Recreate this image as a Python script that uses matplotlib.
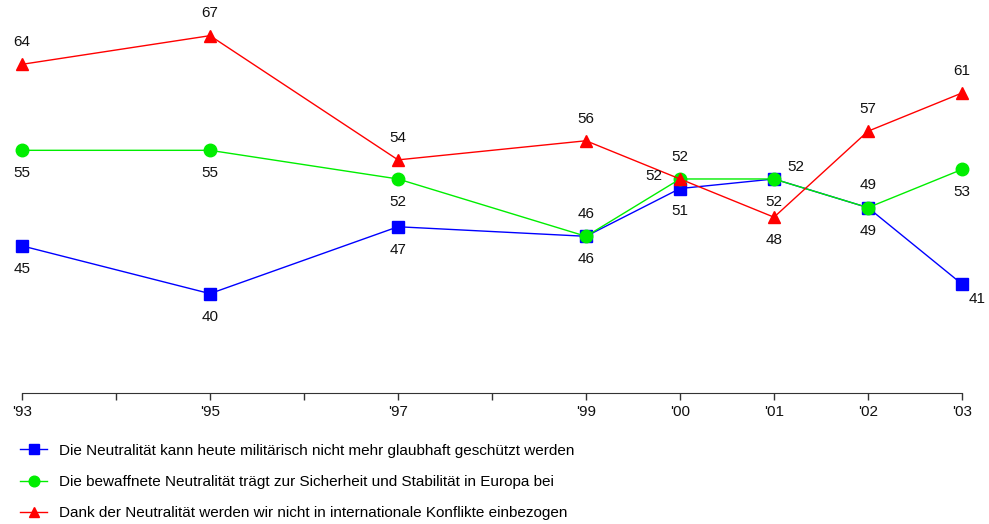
import matplotlib
matplotlib.use("Agg")
import matplotlib.pyplot as plt

plt.rcParams["font.family"] = ["Liberation Sans", "DejaVu Sans"]

years = [1993, 1995, 1997, 1999, 2000, 2001, 2002, 2003]
tick_labels = ["'93", "'95", "'97", "'99", "'00", "'01", "'02", "'03"]

labels = [
    "Die Neutralität kann heute militärisch nicht mehr glaubhaft geschützt werden",
    "Die bewaffnete Neutralität trägt zur Sicherheit und Stabilität in Europa bei",
    "Dank der Neutralität werden wir nicht in internationale Konflikte einbezogen",
]
blue_vals = [45, 40, 47, 46, 51, 52, 49, 41]
green_vals = [55, 55, 52, 46, 52, 52, 49, 53]
red_vals = [64, 67, 54, 56, 52, 48, 57, 61]

# where each value label sits relative to its marker
blue_pos = ["below", "below", "below", "below", "below", "right", "below", "belowright"]
green_pos = ["below", "below", "below", "above", "left", "below", "above", "below"]
red_pos = ["above", "above", "above", "above", "above", "below", "above", "above"]

offsets = {
    "above": (0, 16, "center", "center"),
    "below": (0, -16.5, "center", "center"),
    "right": (9.5, 8.5, "left", "center"),
    "left": (-13, 2, "right", "center"),
    "belowright": (4.5, -11, "left", "center"),
}

fig = plt.figure(figsize=(9.89, 5.24), dpi=100)
ax = fig.add_axes([22 / 989, 131 / 524, 940 / 989, 386 / 524])

series = [
    (blue_vals, blue_pos, "#0000ff", "s", 8),
    (green_vals, green_pos, "#00ee00", "o", 9),
    (red_vals, red_pos, "#ff0000", "^", 9),
]
for (vals, pos, color, marker, ms), lab in zip(series, labels):
    ax.plot(years, vals, color=color, lw=1, marker=marker, ms=ms,
            mec=color, mfc=color, clip_on=False, label=lab)
    for x, y, p in zip(years, vals, pos):
        dx, dy, ha, va = offsets[p]
        ax.annotate(str(y), (x, y), xytext=(dx, dy), textcoords="offset points",
                    ha=ha, va=va, fontsize=11, color="#111111")

ax.set_xlim(1993, 2003)
ax.set_ylim(29.6, 70)
ax.set_xticks(range(1993, 2004))
ax.set_xticklabels([tick_labels[years.index(y)] if y in years else "" for y in range(1993, 2004)])
ax.tick_params(axis="x", direction="out", length=5, width=1, colors="#333333",
               labelsize=11, labelcolor="#111111", pad=4)
ax.set_yticks([])
for s in ["left", "right", "top"]:
    ax.spines[s].set_visible(False)
ax.spines["bottom"].set_color("#333333")

fig.legend(loc="upper left", bbox_to_anchor=(0.014, 0.165), frameon=False,
           fontsize=11, labelspacing=1.13, handlelength=1.8, handletextpad=0.75,
           markerscale=0.85, borderaxespad=0)

fig.savefig("out.png", dpi=100)
